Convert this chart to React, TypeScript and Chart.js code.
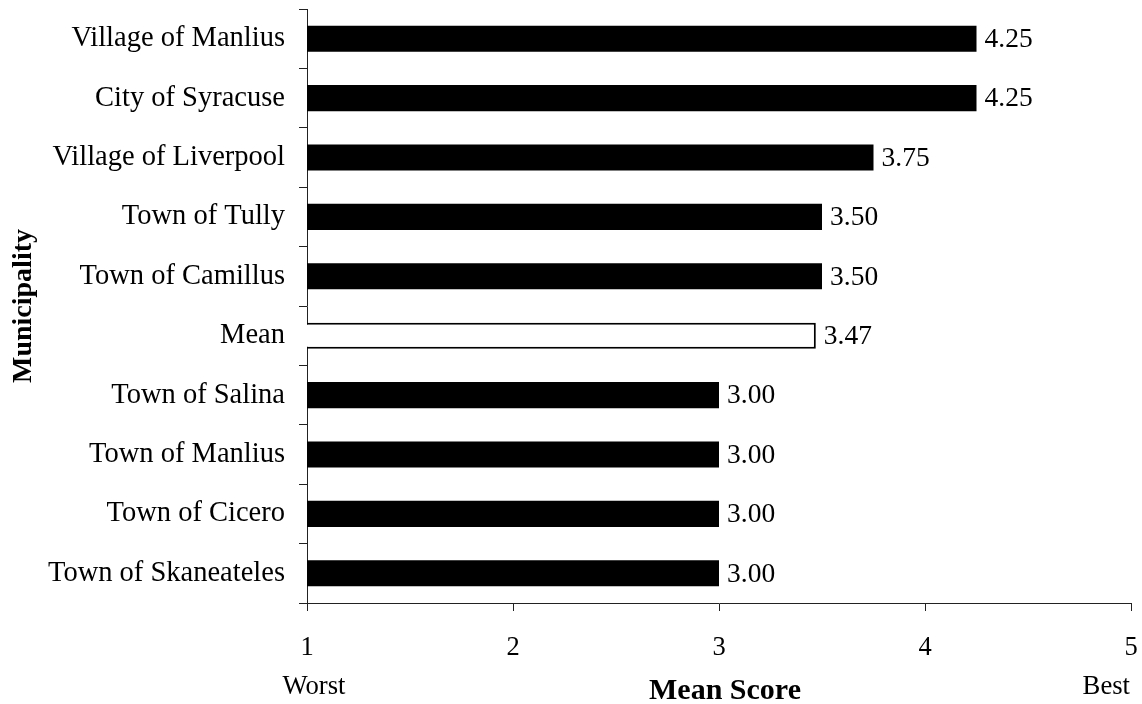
import React, { useEffect, useRef } from "react";
import { Chart, registerables } from "chart.js";

Chart.register(...registerables);

const categories = [
  "Village of Manlius",
  "City of Syracuse",
  "Village of Liverpool",
  "Town of Tully",
  "Town of Camillus",
  "Mean",
  "Town of Salina",
  "Town of Manlius",
  "Town of Cicero",
  "Town of Skaneateles",
];
const scores = [4.25, 4.25, 3.75, 3.5, 3.5, 3.47, 3.0, 3.0, 3.0, 3.0];
const xTicks = [1, 2, 3, 4, 5];
const xAxisTitle = "Mean Score";
const yAxisTitle = "Municipality";
const worstLabel = "Worst";
const bestLabel = "Best";
const highlightCategory = "Mean";

const FONT = "'Liberation Serif', 'Times New Roman', serif";

const annotations = {
  id: "annotations",
  afterDatasetsDraw(chart: any) {
    const ctx = chart.ctx;
    const meta = chart.getDatasetMeta(0);
    ctx.save();
    ctx.fillStyle = "#000";
    ctx.font = `27.5px ${FONT}`;
    ctx.textAlign = "left";
    ctx.textBaseline = "middle";
    meta.data.forEach((el: any, i: number) => {
      ctx.fillText(scores[i].toFixed(2), el.x + 8, el.y + 1);
    });
    ctx.restore();
  },
  afterDraw(chart: any) {
    const ctx = chart.ctx;
    const xs = chart.scales.x;
    const area = chart.chartArea;
    ctx.save();
    ctx.fillStyle = "#000";
    ctx.textBaseline = "alphabetic";
    ctx.font = `26.67px ${FONT}`;
    ctx.textAlign = "center";
    ctx.fillText(worstLabel, xs.getPixelForValue(xTicks[0]) + 7, 694);
    ctx.textAlign = "right";
    ctx.fillText(bestLabel, xs.getPixelForValue(xTicks[xTicks.length - 1]) - 1, 694);
    ctx.font = `bold 30px ${FONT}`;
    ctx.textAlign = "center";
    ctx.fillText(xAxisTitle, (area.left + area.right) / 2 + 6, 699);
    ctx.font = `bold 28px ${FONT}`;
    ctx.translate(31, (area.top + area.bottom) / 2);
    ctx.rotate(-Math.PI / 2);
    ctx.fillText(yAxisTitle, 0, 0);
    ctx.restore();
  },
};

export default function App() {
  const ref = useRef<HTMLCanvasElement | null>(null);
  useEffect(() => {
    if (!ref.current) return;
    const chart = new Chart(ref.current, {
      type: "bar",
      data: {
        labels: categories,
        datasets: [
          {
            data: scores,
            backgroundColor: categories.map((c) => (c === highlightCategory ? "#ffffff" : "#000000")),
            borderColor: "#000000",
            borderWidth: categories.map((c) => (c === highlightCategory ? 2 : 0)),
            borderSkipped: false,
            barPercentage: 0.44,
            categoryPercentage: 1,
          },
        ],
      },
      options: {
        indexAxis: "y",
        responsive: false,
        animation: false,
        layout: { padding: { top: 9, right: 11, left: 0, bottom: 0 } },
        plugins: {
          legend: { display: false },
          tooltip: { enabled: false },
          title: { display: false },
        },
        scales: {
          x: {
            type: "linear",
            min: 1,
            max: 5,
            afterBuildTicks: (scale: any) => {
              scale.ticks = xTicks.map((v) => ({ value: v }));
            },
            grid: {
              drawOnChartArea: false,
              drawTicks: true,
              tickLength: 8,
              color: "#222",
            },
            border: { display: true, color: "#222", width: 1 },
            ticks: {
              color: "#000",
              padding: 21,
              font: { family: FONT, size: 26.5, lineHeight: 1.2 },
              maxRotation: 0,
            },
            afterFit: (scale: any) => {
              scale.height = 101;
              scale.paddingLeft = 0;
              scale.paddingRight = 0;
            },
          },
          y: {
            type: "category",
            grid: {
              offset: true,
              drawOnChartArea: false,
              drawTicks: true,
              tickLength: 8,
              color: "#222",
            },
            border: { display: true, color: "#222", width: 1 },
            ticks: {
              color: "#000",
              padding: 14,
              font: { family: FONT, size: 28.5, lineHeight: 1.2 },
            },
            afterFit: (scale: any) => {
              scale.width = 307;
              scale.paddingTop = 0;
              scale.paddingBottom = 0;
            },
          },
        },
      },
      plugins: [annotations],
    });
    return () => chart.destroy();
  }, []);
  return (
    <div style={{ position: "absolute", left: 0, top: 0, width: 1142, height: 704, background: "#fff" }}>
      <canvas ref={ref} width={1142} height={704} style={{ display: "block" }} />
    </div>
  );
}
